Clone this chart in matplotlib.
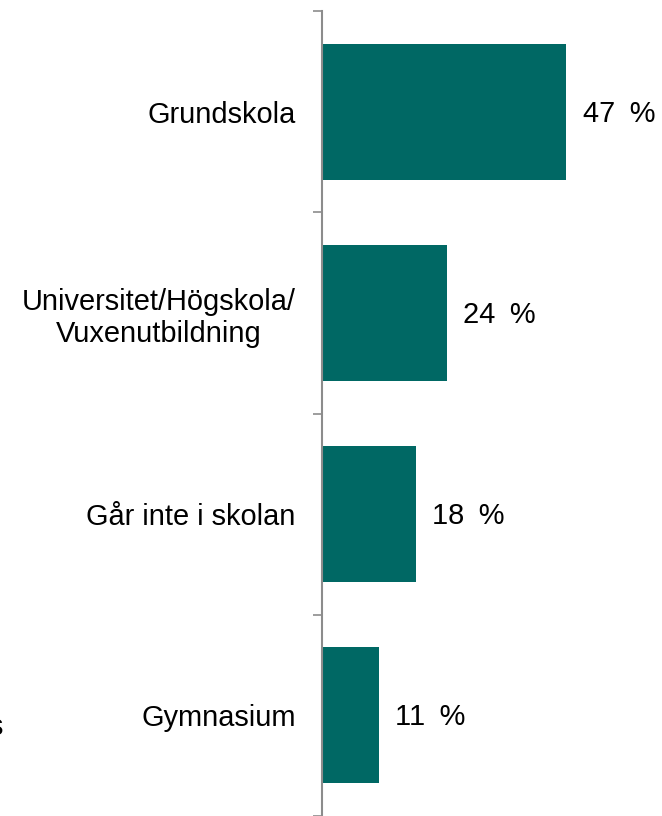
import matplotlib.pyplot as plt

plt.rcParams['font.family'] = ['Liberation Sans', 'DejaVu Sans']

# data
kategorier = ["Grundskola", "Universitet/Högskola/\nVuxenutbildning",
              "Går inte i skolan", "Gymnasium"]
andel = [47, 24, 18, 11]

fig = plt.figure(figsize=(6.62, 8.16), dpi=100)
ax = fig.add_axes([322 / 662, 0.0, 340 / 662, 1 - 11 / 816])

pos = list(range(len(kategorier)))
ax.barh(pos, andel, height=0.675, color="#006864")

ax.set_ylim(len(kategorier) - 0.5, -0.5)
ax.set_xlim(0, 340 / 5.2)

# ticks at the category borders, labels in the middle
ax.set_yticks([p - 0.5 for p in pos] + [len(pos) - 0.5])
ax.set_yticklabels([])
ax.set_yticks(pos, minor=True)
ax.set_yticklabels(kategorier, minor=True, fontsize=20.9, ha="right",
                   multialignment="center")
ax.tick_params(axis="y", which="major", length=6.5, width=1.2, color="#8c8c8c")
ax.tick_params(axis="y", which="minor", length=0, pad=19)
ax.set_xticks([])

for s in ["top", "right", "bottom"]:
    ax.spines[s].set_visible(False)
ax.spines["left"].set_color("#8c8c8c")
ax.spines["left"].set_linewidth(1.5)

for p, v in zip(pos, andel):
    ax.text(v + 3.1, p + 0.01, f"{v}\u2002%", va="center", ha="left",
            fontsize=20.9)

# bit of text cut off at the left border
fig.text(0.0035, 1 - 727 / 816, "s", ha="right", va="center", fontsize=20.9)

fig.savefig("out.png", dpi=100)
